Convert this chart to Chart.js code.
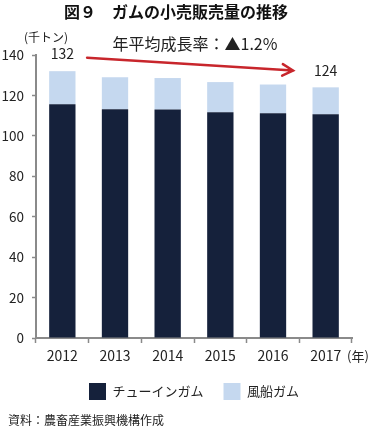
<!DOCTYPE html>
<html lang="ja">
<head>
  <meta charset="UTF-8">
  <title>ガムの小売販売量の推移</title>
  <style>
    html, body { margin: 0; padding: 0; background: #fff; }
    .chart-container { position: relative; width: 377px; height: 435px; }
  </style>
</head>
<body>
  <div class="chart-container">
    <canvas id="gumChart"></canvas>
  </div>

  <script src="https://cdn.jsdelivr.net/npm/chart.js"></script>
  <script>
    // データ（千トン）
    const years = ['2012', '2013', '2014', '2015', '2016', '2017'];
    const chewingGum = [115.6, 113.2, 113.0, 111.7, 111.2, 110.7];
    const bubbleGum = [16.4, 15.8, 15.6, 14.9, 14.2, 13.3];
    const totalLabels = ['132', '', '', '', '', '124'];
    const yTicks = [0, 20, 40, 60, 80, 100, 120, 140];

    const FONT = '"Noto Sans CJK JP", "Noto Sans", sans-serif';
    const AXIS = '#8a8a8a';

    // 注記（単位・成長率・矢印・合計値・出典）
    const notes = {
      id: 'notes',
      afterDraw(chart) {
        const ctx = chart.ctx;
        const x = chart.scales.x;
        const y = chart.scales.y;
        ctx.save();
        ctx.fillStyle = '#222';
        ctx.textBaseline = 'middle';

        ctx.font = '12px ' + FONT;
        ctx.textAlign = 'left';
        ctx.fillText('(千トン)', 24, 37);

        ctx.font = '16px ' + FONT;
        ctx.textAlign = 'center';
        ctx.fillText('年平均成長率：▲1.2%', 195, 44);

        ctx.font = '14px ' + FONT;
        years.forEach((yr, i) => {
          if (!totalLabels[i]) return;
          const top = y.getPixelForValue(chewingGum[i] + bubbleGum[i]);
          ctx.fillText(totalLabels[i], x.getPixelForValue(i), top - 17);
        });

        ctx.font = '13px ' + FONT;
        ctx.textAlign = 'left';
        ctx.fillText('(年)', x.right - 5, 356);

        ctx.font = '12px ' + FONT;
        ctx.fillText('資料：農畜産業振興機構作成', 8, 420);

        // 矢印
        const x0 = x.getPixelForValue(0.47), y0 = y.getPixelForValue(138.7);
        const x1 = x.getPixelForValue(4.38), y1 = y.getPixelForValue(132.3);
        ctx.strokeStyle = '#c8262c';
        ctx.lineWidth = 2.5;
        ctx.lineCap = 'round';
        ctx.beginPath();
        ctx.moveTo(x0, y0);
        ctx.lineTo(x1, y1);
        const ang = Math.atan2(y1 - y0, x1 - x0);
        ctx.moveTo(x1 - 12 * Math.cos(ang - 0.5), y1 - 12 * Math.sin(ang - 0.5));
        ctx.lineTo(x1, y1);
        ctx.lineTo(x1 - 12 * Math.cos(ang + 0.5), y1 - 12 * Math.sin(ang + 0.5));
        ctx.stroke();
        ctx.restore();
      }
    };

    const ctx = document.getElementById('gumChart').getContext('2d');
    new Chart(ctx, {
      type: 'bar',
      data: {
        labels: years,
        datasets: [
          {
            label: 'チューインガム',
            data: chewingGum,
            backgroundColor: '#15213b',
            borderWidth: 0,
            barPercentage: 0.5,
            categoryPercentage: 1.0
          },
          {
            label: '風船ガム',
            data: bubbleGum,
            backgroundColor: '#c5d8ef',
            borderWidth: 0,
            barPercentage: 0.5,
            categoryPercentage: 1.0
          }
        ]
      },
      options: {
        responsive: true,
        maintainAspectRatio: false,
        animation: false,
        layout: { padding: { top: 0, left: 0, right: 25, bottom: 25 } },
        scales: {
          x: {
            stacked: true,
            offset: true,
            grid: { display: true, drawOnChartArea: false, offset: true, tickLength: 5, color: AXIS, tickWidth: 1.5 },
            border: { display: true, color: AXIS, width: 2 },
            ticks: { color: '#222', padding: 4, font: { family: FONT, size: 14 } },
            afterFit(scale) { scale.height = 25; }
          },
          y: {
            stacked: true,
            min: 0,
            max: 140,
            afterBuildTicks(scale) { scale.ticks = yTicks.map(v => ({ value: v })); },
            grid: { display: true, drawOnChartArea: false, tickLength: 4, color: AXIS, tickWidth: 1.5 },
            border: { display: true, color: AXIS, width: 2 },
            ticks: { color: '#222', padding: 8, font: { family: FONT, size: 13.5 } },
            afterFit(scale) { scale.width = 36; }
          }
        },
        plugins: {
          title: {
            display: true,
            text: '図９　ガムの小売販売量の推移',
            color: '#111',
            font: { family: FONT, size: 16, weight: 'bold' },
            padding: { top: 2.4, bottom: 33.4 }
          },
          legend: {
            display: true,
            position: 'bottom',
            fullSize: false,
            labels: {
              color: '#222',
              boxWidth: 17,
              boxHeight: 17,
              padding: 20,
              font: { family: FONT, size: 13 }
            }
          },
          tooltip: { enabled: false }
        }
      },
      plugins: [notes]
    });
  </script>
</body>
</html>
